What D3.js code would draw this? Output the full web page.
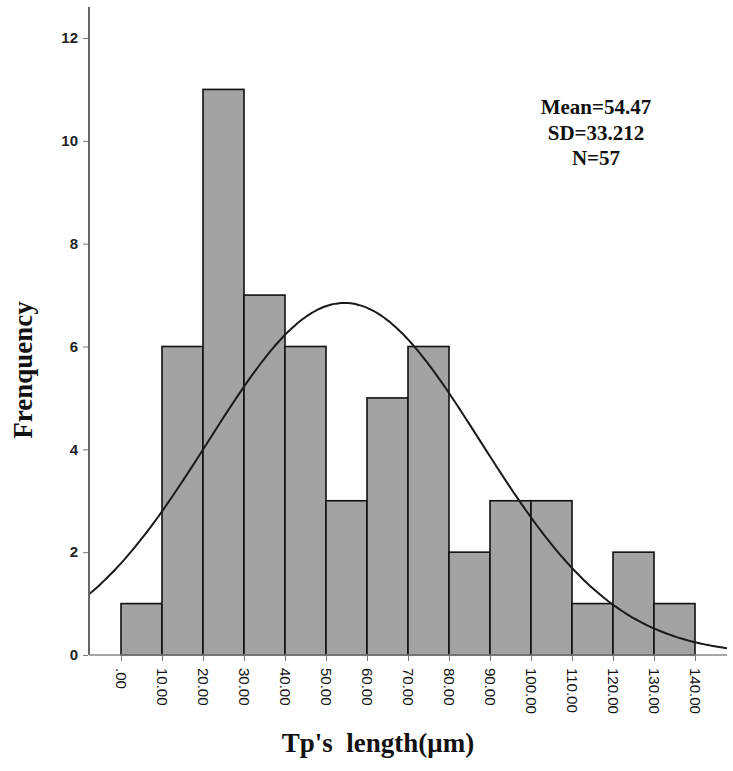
<!DOCTYPE html>
<html><head><meta charset="utf-8">
<script src="https://cdn.jsdelivr.net/npm/d3@7"></script>
<style>body{margin:0;background:#fff}</style>
</head><body><svg id="c" width="733" height="771"></svg>
<script>
const binStarts = [0,10,20,30,40,50,60,70,80,90,100,110,120,130];
const binWidth = 10;
const counts = [1,6,11,7,6,3,5,6,2,3,3,1,2,1];
const xTicks = [0,10,20,30,40,50,60,70,80,90,100,110,120,130,140];
const yTicks = [0,2,4,6,8,10,12];
const mean = 54.47, sd = 33.212, n = 57;
const statsLines = ["Mean=54.47","SD=33.212","N=57"];

const svg = d3.select("#c");
const x = d3.scaleLinear().domain([0,140]).range([121,695]);
const y = d3.scaleLinear().domain([0,12]).range([655,38]);

// bars
svg.append("g").selectAll("rect").data(binStarts).join("rect")
  .attr("x", (d)=>x(d)).attr("width", (d)=>x(d+binWidth)-x(d))
  .attr("y", (d,i)=>y(counts[i])).attr("height", (d,i)=>y(0)-y(counts[i]))
  .attr("fill","#a3a3a3").attr("stroke","#111").attr("stroke-width",1.6);

// fitted normal curve from the stated Mean / SD / N
const xmin = x.invert(89), xmax = x.invert(727);
const pts = d3.range(0,201).map(i=>{
  const v = xmin + (xmax-xmin)*i/200;
  const f = n*binWidth/(sd*Math.sqrt(2*Math.PI))*Math.exp(-0.5*((v-mean)/sd)**2);
  return [v,f];
});
svg.append("path").datum(pts)
  .attr("d", d3.line().x(d=>x(d[0])).y(d=>y(d[1])).curve(d3.curveBasis))
  .attr("fill","none").attr("stroke","#1a1a1a").attr("stroke-width",2);

// axes lines
svg.append("line").attr("x1",89).attr("x2",89).attr("y1",7).attr("y2",655)
  .attr("stroke","#666").attr("stroke-width",2);
svg.append("line").attr("x1",89).attr("x2",727).attr("y1",655).attr("y2",655)
  .attr("stroke","#888").attr("stroke-width",1.5);

// y axis
const yAxis = svg.append("g").attr("transform","translate(88,0)")
  .call(d3.axisLeft(y).tickValues(yTicks).tickSize(5).tickPadding(5).tickFormat(d3.format("d")));
yAxis.select(".domain").remove();
yAxis.selectAll(".tick line").attr("stroke","#777");
yAxis.selectAll("text").attr("font-family","Liberation Sans, Arial, sans-serif")
  .attr("font-size",15).attr("font-weight","bold").attr("fill","#222");

// x axis
const xAxis = svg.append("g").attr("transform","translate(0,656)")
  .call(d3.axisBottom(x).tickValues(xTicks).tickSize(5)
    .tickFormat(d=> d===0 ? ".00" : d.toFixed(2)));
xAxis.select(".domain").remove();
xAxis.selectAll(".tick line").attr("stroke","#777");
xAxis.selectAll("text")
  .attr("font-family","Liberation Sans, Arial, sans-serif").attr("font-size",15).attr("fill","#111")
  .attr("transform","rotate(90)").attr("x",12).attr("y",0).attr("dy","0.35em")
  .attr("text-anchor","start");

// stats
svg.append("g").selectAll("text").data(statsLines).join("text")
  .attr("x",596).attr("y",(d,i)=>114+i*25.5)
  .attr("text-anchor","middle").attr("font-family","Liberation Serif, Times New Roman, serif")
  .attr("font-weight","bold").attr("font-size",21).attr("fill","#111").text(d=>d);

// titles
svg.append("text").attr("x",378).attr("y",752).attr("text-anchor","middle")
  .attr("font-family","Liberation Serif, Times New Roman, serif").attr("font-weight","bold")
  .attr("font-size",27).attr("fill","#111").attr("xml:space","preserve").text("Tp's  length(\u03bcm)");
svg.append("text").attr("transform","translate(32,370) rotate(-90)").attr("text-anchor","middle")
  .attr("font-family","Liberation Serif, Times New Roman, serif").attr("font-weight","bold")
  .attr("font-size",27).attr("fill","#111").text("Frenquency");
</script></body></html>
